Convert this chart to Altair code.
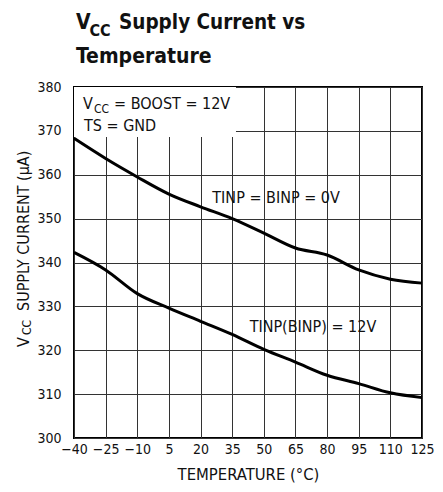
import altair as alt
import pandas as pd

# ---- data ----
temps = [-40, -25, -10, 5, 20, 35, 50, 65, 80, 95, 110, 125]
i_0v = [368.3, 363.7, 359.5, 355.6, 352.7, 350.0, 346.7, 343.3, 341.7, 338.3, 336.2, 335.3]
i_12v = [342.3, 338.3, 332.9, 329.6, 326.6, 323.6, 320.2, 317.3, 314.3, 312.4, 310.3, 309.2]
x_ticks = [-40, -25, -10, 5, 20, 35, 50, 65, 80, 95, 110, 125]
y_ticks = [300, 310, 320, 330, 340, 350, 360, 370, 380]

FONT = "DejaVu Sans Condensed"

df = pd.DataFrame({
    "t": temps * 2,
    "i": i_0v + i_12v,
    "s": ["TINP = BINP = 0V"] * len(temps) + ["TINP(BINP) = 12V"] * len(temps),
})

xs = alt.Scale(domain=[-40, 125], nice=False, zero=False)
ys = alt.Scale(domain=[300, 380], nice=False, zero=False)

x_axis = alt.Axis(values=x_ticks, grid=True, ticks=False, domain=False,
                  labelFont=FONT, labelFontSize=14, labelColor="#111",
                  labelPadding=4, labelFlush=False, labelOverlap=False,
                  title="TEMPERATURE (°C)", titleFont=FONT, titleFontSize=16.5,
                  titleFontWeight="normal", titleColor="#111", titlePadding=10,
                  gridColor="#333", gridWidth=1, gridOpacity=1)
y_axis = alt.Axis(values=y_ticks, grid=True, ticks=False, domain=False,
                  labelFont=FONT, labelFontSize=14, labelColor="#111",
                  labelPadding=13, labelFlush=False, labelOverlap=False,
                  title=None, gridColor="#333", gridWidth=1, gridOpacity=1)

box_df = pd.DataFrame({"x": [-40], "x2": [36.8], "y": [368.6], "y2": [380]})
box = alt.Chart(box_df).mark_rect(fill="white").encode(
    x=alt.X("x:Q", scale=xs, axis=x_axis),
    x2="x2:Q",
    y=alt.Y("y:Q", scale=ys, axis=y_axis),
    y2="y2:Q",
)

lines = alt.Chart(df).mark_line(color="black", strokeWidth=3, interpolate="monotone").encode(
    x=alt.X("t:Q", scale=xs, axis=x_axis),
    y=alt.Y("i:Q", scale=ys, axis=y_axis),
    detail="s:N",
)

lab_df = pd.DataFrame({"t": [55.8, 73.3], "i": [354.7, 325.3],
                       "txt": ["TINP = BINP = 0V", "TINP(BINP) = 12V"]})
labels = alt.Chart(lab_df).mark_text(font=FONT, fontSize=16, color="#111",
                                     align="center", baseline="middle").encode(
    x=alt.X("t:Q", scale=xs, axis=x_axis), y=alt.Y("i:Q", scale=ys, axis=y_axis),
    text="txt:N")


def txt(s, x, y, size, weight="normal", angle=0):
    kw = dict(font=FONT, fontSize=size, fontWeight=weight, color="#111",
              align="left", baseline="alphabetic")
    if angle:
        kw["angle"] = angle
    return alt.Chart(pd.DataFrame({"s": [s]})).mark_text(**kw).encode(
        x=alt.value(x), y=alt.value(y), text="s:N")


texts = [
    # title
    txt("V", 2, -58, 21, "bold"),
    txt("CC", 15.5, -51, 16, "bold"),
    txt("Supply Current vs", 45, -58, 20.5, "bold"),
    txt("Temperature", 2, -24, 21, "bold"),
    # conditions box
    txt("V", 9, 22, 16),
    txt("CC", 20, 26, 12),
    txt("= BOOST = 12V", 40, 22, 16),
    txt("TS = GND", 10, 44, 16),
    # y-axis title (rotated)
    txt("V", -45, 260, 16, angle=270),
    txt("CC", -43, 248, 12, angle=270),
    txt("SUPPLY CURRENT (µA)", -45, 224, 16, angle=270),
]

chart = alt.layer(box, lines, labels, *texts).properties(
    width=348, height=351,
    autosize=alt.AutoSizeParams(type="none"),
    padding={"left": 66, "top": 79, "right": 13, "bottom": 46},
).configure_view(stroke="black", strokeWidth=2
).configure_axis(labelOverlap=False)

chart.save("out.html", embed_options={"renderer": "svg", "actions": False})
